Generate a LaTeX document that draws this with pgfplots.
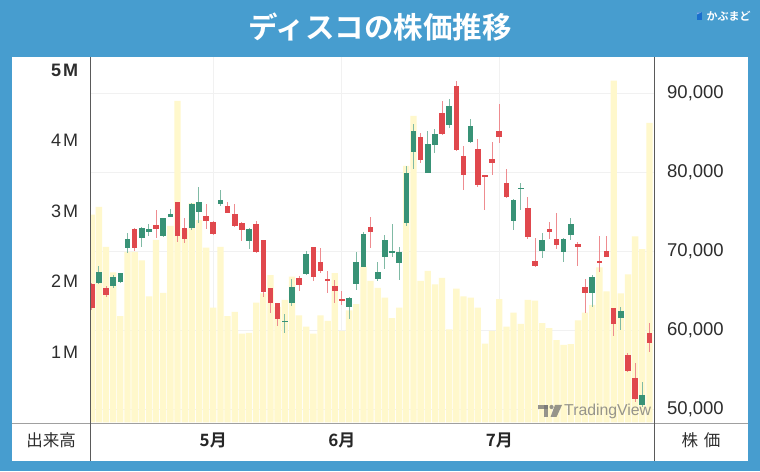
\documentclass[border=0pt]{standalone}
\usepackage{pgfplots}
\pgfplotsset{compat=1.18}
\usepackage{pgfplotstable}
\usepackage{fontspec}
\setmainfont{Liberation Sans}
\newfontfamily\jp{Noto Sans CJK JP}[BoldFont={Noto Sans CJK JP Bold}]
\definecolor{bgblue}{RGB}{71,157,207}
\definecolor{logoblue}{RGB}{25,110,205}
\definecolor{volyellow}{RGB}{255,248,204}
\definecolor{upbody}{RGB}{56,146,118}
\definecolor{upwick}{RGB}{128,186,165}
\definecolor{dnbody}{RGB}{224,72,77}
\definecolor{dnwick}{RGB}{238,140,144}
\definecolor{gridgray}{RGB}{241,241,241}
\definecolor{txt}{RGB}{45,45,45}
\definecolor{axisdark}{RGB}{90,90,90}
\definecolor{sepgray}{RGB}{160,160,160}

\pgfplotstableread{
i o h l c v
0 65850 65980 62560 62780 2.95
1 65940 68170 65850 67330 3.06
2 65310 65640 64240 64460 2.49
3 65640 66990 65380 66740 2.13
4 66100 67280 66010 67200 1.51
5 70440 72340 69810 71500 2.42
6 72850 72930 70060 70440 2.42
7 71630 73020 70570 72930 2.30
8 72470 73440 71920 72770 1.79
9 73350 75210 71710 72850 2.59
10 71920 74200 71830 74160 1.84
11 74360 75380 74290 74740 2.79
12 76220 76260 71160 71920 4.56
13 72900 74240 71000 71580 2.74
14 72900 76130 72680 75930 3.11
15 75000 78080 73530 76260 2.87
16 74450 75970 72810 73860 2.48
17 73730 73820 72090 72180 1.63
18 75930 77740 75760 76480 2.49
19 75760 76260 74790 74870 1.51
20 74670 75930 73100 73230 1.57
21 73570 73660 71290 72680 1.26
22 71290 72900 70280 72770 1.27
23 73400 73860 69810 69900 1.70
24 71380 71420 64170 64800 1.83
25 65310 65380 62140 63410 2.09
26 63410 63480 60580 61460 1.64
27 61040 62060 59610 61210 1.74
28 63480 66520 63110 65510 2.07
29 66570 66860 65000 65720 1.52
30 67120 70060 66990 69650 1.36
31 70530 70570 66270 66770 1.26
32 68630 70440 67200 67490 1.52
33 66520 67490 64750 66230 1.44
34 65600 66360 63480 64960 2.12
35 63990 64930 63190 63740 1.30
36 62980 64170 61460 64080 1.59
37 65850 69860 65090 68600 1.68
38 68040 72470 67960 72140 2.21
39 73100 74360 70440 72470 2.01
40 66480 68600 66270 67370 1.91
41 69300 72010 67710 71420 1.77
42 69860 73480 69300 69990 1.48
43 68470 70570 66360 69940 1.63
44 73530 80780 73230 79850 3.64
45 82550 86050 80360 85200 4.35
46 84480 84990 81120 81540 2.01
47 79930 85240 79850 83560 2.15
48 83400 85500 82380 84830 1.96
49 87440 89040 84700 84830 2.05
50 85960 89220 85550 88370 1.32
51 90900 91570 82710 82800 1.90
52 82040 83310 77740 79640 1.79
53 83850 86720 83650 85880 1.77
54 82890 84160 78080 78370 1.63
55 79550 79640 75210 79470 1.12
56 81700 83850 79640 81190 1.30
57 85240 88580 83650 84410 1.75
58 78660 80360 76690 76820 1.36
59 73860 76570 72680 76480 1.56
60 77900 78660 75210 77990 1.40
61 75500 76820 71540 71760 1.74
62 68800 71630 68000 68170 1.73
63 70060 72260 69180 71380 1.41
64 72770 73690 71540 72430 1.34
65 71540 74870 70240 70780 1.17
66 69900 71630 68630 71500 1.10
67 72050 74160 71420 73440 1.11
68 70950 71200 68170 70490 1.45
69 65510 66480 62140 64670 1.56
70 64670 66990 62980 66700 1.67
71 68760 71960 67410 68510 2.20
72 70060 71960 69230 69270 1.86
73 62780 62850 59270 60790 4.85
74 61510 62900 60030 62470 1.83
75 56870 57080 54760 54840 2.10
76 53920 55890 50960 51270 2.64
77 50510 53490 50330 51770 2.46
78 59690 60880 57290 58350 4.25
}\candles

\pgfplotsset{
  chartgeom/.style={
    at={(90.5pt,48.5pt)}, anchor=south west, scale only axis,
    width=564pt, height=365.5pt,
    xmin=-0.168, xmax=78.71,
  },
}

\begin{document}
\begin{tikzpicture}[x=1pt,y=1pt]
\fill[bgblue] (0,0) rectangle (760,471);
\useasboundingbox (0,0) rectangle (760,471);
\fill[white] (11.5,10) rectangle (747.5,414);

% title and logo
\node[text=white, font=\jp\bfseries\fontsize{29.5}{30}\selectfont] at (380,443.5) {ディスコの株価推移};
\fill[logoblue] (697,450.5) rectangle (701.5,458.5);
\fill[logoblue!55!white] (697,456.5) -- (697,458.5) -- (701.5,458.5) -- (699,457.5) -- cycle;
\node[text=white, font=\jp\bfseries\fontsize{11}{11}\selectfont, anchor=west, inner sep=0pt] at (706.5,455) {かぶまど};

% axis A: price grid, right labels, month labels
\begin{axis}[chartgeom,
  ymin=48330, ymax=94566,
  axis line style={draw=none},
  major tick length=0pt,
  grid=major,
  major grid style={gridgray, line width=1pt},
  ytick={50000,60000,70000,80000,90000},
  yticklabel pos=right,
  scaled y ticks=false,
  /pgf/number format/.cd, 1000 sep={,}, assume math mode=true,
  /pgfplots/.cd,
  yticklabel style={anchor=west, inner sep=0pt, xshift=12.5pt, text=txt,
     font=\fontsize{18.5}{19}\selectfont},
  xtick={17,35,57},
  xticklabels={5月,6月,7月},
  xticklabel style={anchor=center, inner sep=0pt, yshift=-17.5pt, text=black!85,
     font=\jp\bfseries\fontsize{17}{17}\selectfont},
]
\addplot[draw=none, mark=none] coordinates {(0,70000)};
\end{axis}

% axis B: volume
\begin{axis}[chartgeom,
  ymin=0, ymax=5.184,
  axis line style={draw=none},
  major tick length=0pt,
  xtick=\empty,
  ytick={1,2,3,4,5},
  yticklabels={1\hspace{2pt}M,2\hspace{2pt}M,3\hspace{2pt}M,4\hspace{2pt}M,\textbf{5\hspace{2pt}M}},
  yticklabel style={anchor=east, inner sep=0pt, xshift=-12.2pt, text=txt,
     font=\fontsize{18}{18}\selectfont},
]
\addplot[ybar, bar width=6.3pt, fill=volyellow, draw=none] table[x=i, y=v] {\candles};
\end{axis}

% watermark
\begin{scope}[fill=black!55, opacity=0.75]
\fill (538,62) rectangle (548,66);
\fill (543.5,54) rectangle (548,66);
\fill (551.5,64) circle (2.1);
\fill (555,66) -- (562,66) -- (556.5,54) -- (550.5,54) -- cycle;
\node[text=black!55, font=\fontsize{15.8}{16}\selectfont, anchor=west, inner sep=0pt] at (564,60) {TradingView};
\end{scope}

% axis C: candles
\begin{axis}[chartgeom,
  ymin=48330, ymax=94566,
  hide axis,
]
% wicks
\addplot[draw=none, mark=none,
  restrict expr to domain={\thisrow{c}-\thisrow{o}}{0:100000},
  error bars/.cd, y dir=both, y explicit, error mark=none,
  error bar style={draw=upwick, line width=1pt}]
  table[x=i, y expr={(\thisrow{h}+\thisrow{l})/2}, y error expr={(\thisrow{h}-\thisrow{l})/2}] {\candles};
\addplot[draw=none, mark=none,
  restrict expr to domain={\thisrow{c}-\thisrow{o}}{-100000:-1},
  error bars/.cd, y dir=both, y explicit, error mark=none,
  error bar style={draw=dnwick, line width=1pt}]
  table[x=i, y expr={(\thisrow{h}+\thisrow{l})/2}, y error expr={(\thisrow{h}-\thisrow{l})/2}] {\candles};
% bodies
\addplot[draw=none, mark=none,
  restrict expr to domain={\thisrow{c}-\thisrow{o}}{0:100000},
  error bars/.cd, y dir=both, y explicit, error mark=none,
  error bar style={draw=upbody, line width=5.6pt}]
  table[x=i, y expr={(\thisrow{o}+\thisrow{c})/2}, y error expr={max(abs(\thisrow{c}-\thisrow{o})/2,90)}] {\candles};
\addplot[draw=none, mark=none,
  restrict expr to domain={\thisrow{c}-\thisrow{o}}{-100000:-1},
  error bars/.cd, y dir=both, y explicit, error mark=none,
  error bar style={draw=dnbody, line width=5.6pt}]
  table[x=i, y expr={(\thisrow{o}+\thisrow{c})/2}, y error expr={max(abs(\thisrow{c}-\thisrow{o})/2,90)}] {\candles};
\end{axis}

% frame lines
\draw[sepgray, line width=1.5pt] (11.5,47.5) -- (747.5,47.5);
\draw[axisdark, line width=1pt] (90.5,10) -- (90.5,414);
\draw[axisdark, line width=1pt] (654.5,10) -- (654.5,414);

% bottom row labels
\node[text=txt, font=\jp\fontsize{16.5}{17}\selectfont] at (51,31) {出来高};
\node[text=txt, font=\jp\fontsize{16.5}{17}\selectfont] at (701,31) {株\hspace{0.35em}価};
\end{tikzpicture}
\end{document}
